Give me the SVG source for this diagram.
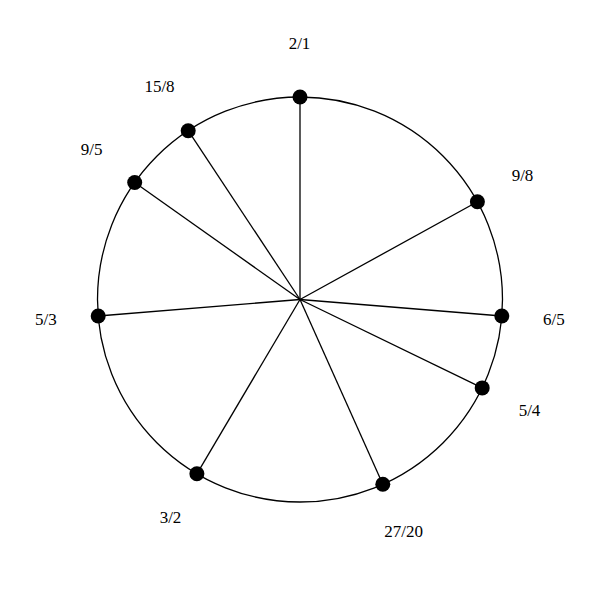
<svg xmlns="http://www.w3.org/2000/svg" width="600" height="600" viewBox="0 0 600 600">
<style>
.ln{stroke:#000;stroke-width:1.3;fill:none}
.dot{fill:#000}
.lb{font-family:"Liberation Serif","Times New Roman",serif;font-size:17px;fill:#000;text-anchor:middle}
</style>
<rect width="600" height="600" fill="#fff"/>
<circle id="ring" cx="300" cy="299.5" r="202.5" class="ln"/>
<g id="connectors">
<line class="ln" x1="300" y1="299.5" x2="300" y2="97"/>
<line class="ln" x1="300" y1="299.5" x2="477.4" y2="201.8"/>
<line class="ln" x1="300" y1="299.5" x2="501.8" y2="316"/>
<line class="ln" x1="300" y1="299.5" x2="482.2" y2="387.9"/>
<line class="ln" x1="300" y1="299.5" x2="382.8" y2="484.3"/>
<line class="ln" x1="300" y1="299.5" x2="196.9" y2="473.8"/>
<line class="ln" x1="300" y1="299.5" x2="98.2" y2="316"/>
<line class="ln" x1="300" y1="299.5" x2="134.7" y2="182.5"/>
<line class="ln" x1="300" y1="299.5" x2="188.2" y2="130.7"/>
</g>
<g id="n2_1"><circle class="dot" cx="300" cy="97" r="7.5"/><text class="lb" x="299.5" y="49">2/1</text></g>
<g id="n9_8"><circle class="dot" cx="477.4" cy="201.8" r="7.5"/><text class="lb" x="522.5" y="181">9/8</text></g>
<g id="n6_5"><circle class="dot" cx="501.8" cy="316" r="7.5"/><text class="lb" x="553.8" y="324.5">6/5</text></g>
<g id="n5_4"><circle class="dot" cx="482.2" cy="387.9" r="7.5"/><text class="lb" x="529.5" y="416">5/4</text></g>
<g id="n27_20"><circle class="dot" cx="382.8" cy="484.3" r="7.5"/><text class="lb" x="403.7" y="537.3">27/20</text></g>
<g id="n3_2"><circle class="dot" cx="196.9" cy="473.8" r="7.5"/><text class="lb" x="170.5" y="523.3">3/2</text></g>
<g id="n5_3"><circle class="dot" cx="98.2" cy="316" r="7.5"/><text class="lb" x="45.8" y="325">5/3</text></g>
<g id="n9_5"><circle class="dot" cx="134.7" cy="182.5" r="7.5"/><text class="lb" x="91.7" y="155">9/5</text></g>
<g id="n15_8"><circle class="dot" cx="188.2" cy="130.7" r="7.5"/><text class="lb" x="159.5" y="91.7">15/8</text></g>
</svg>
